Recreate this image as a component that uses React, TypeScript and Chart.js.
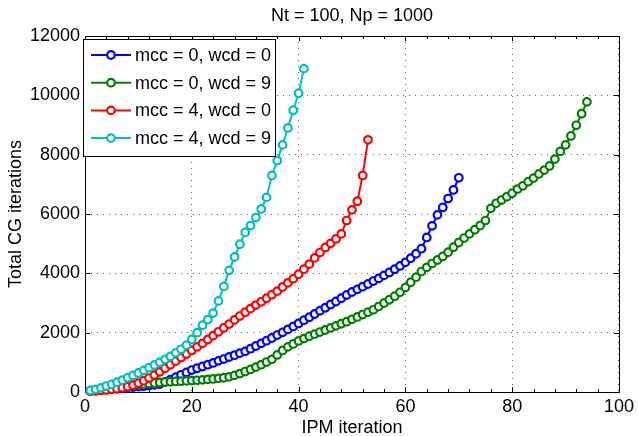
import React, { useEffect, useRef } from "react";
import { Chart, registerables } from "chart.js";

Chart.register(...registerables);

const FONT = '"Liberation Sans", Arial, Helvetica, sans-serif';

const titleText = "Nt = 100, Np = 1000";
const xTitle = "IPM iteration";
const yTitle = "Total CG iterations";

const seriesLabels = ["mcc = 0, wcd = 0", "mcc = 0, wcd = 9", "mcc = 4, wcd = 0", "mcc = 4, wcd = 9"];
const seriesColors = ["#0000ff", "#008000", "#ff0000", "#00bfbf"];

const xTickValues = [0, 20, 40, 60, 80, 100];
const yTickValues = [0, 2000, 4000, 6000, 8000, 10000, 12000];
const xMinorStep = 4;

// Total CG iterations per IPM iteration (iteration index starts at 1)
const mcc0wcd0 = [
  45, 60, 75, 90, 105, 120, 135, 150, 165, 180,
  195, 215, 240, 270, 340, 420, 500, 580, 660, 740,
  800, 860, 920, 980, 1050, 1110, 1180, 1240, 1310, 1370,
  1460, 1550, 1640, 1730, 1820, 1920, 2010, 2110, 2210, 2310,
  2420, 2520, 2630, 2740, 2840, 2950, 3050, 3160, 3270, 3370,
  3460, 3550, 3640, 3740, 3830, 3930, 4030, 4140, 4250, 4370,
  4510, 4660, 4830, 5210, 5600, 5970, 6220, 6520, 6810, 7220,
];

const mcc0wcd9 = [
  20, 40, 60, 80, 110, 140, 170, 200, 225, 250,
  270, 290, 305, 320, 335, 345, 355, 365, 375, 385,
  395, 410, 425, 440, 460, 480, 510, 560, 620, 690,
  760, 840, 920, 1010, 1100, 1250, 1400, 1520, 1620, 1720,
  1800, 1880, 1950, 2020, 2090, 2160, 2230, 2300, 2370, 2450,
  2530, 2610, 2690, 2770, 2880, 3000, 3110, 3230, 3360, 3520,
  3700, 3870, 4060, 4200, 4330, 4450, 4570, 4710, 4880, 5040,
  5190, 5330, 5470, 5610, 5780, 6190, 6360, 6470, 6580, 6700,
  6840, 6950, 7090, 7210, 7350, 7480, 7620, 7850, 8110, 8330,
  8630, 8990, 9380, 9780,
];

const mcc4wcd0 = [
  30, 40, 55, 70, 90, 110, 140, 180, 230, 300,
  380, 470, 570, 680, 800, 920, 1040, 1160, 1280, 1400,
  1520, 1640, 1770, 1900, 2030, 2160, 2290, 2430, 2560, 2690,
  2810, 2930, 3040, 3160, 3280, 3400, 3540, 3680, 3820, 3970,
  4140, 4310, 4520, 4700, 4870, 5010, 5160, 5330, 5780, 6140,
  6430, 7300, 8500,
];

const mcc4wcd9 = [
  50, 90, 140, 200, 260, 330, 400, 480, 560, 640,
  730, 820, 910, 1000, 1100, 1200, 1320, 1440, 1580, 1770,
  2000, 2250, 2440, 2660, 3070, 3560, 4100, 4550, 4980, 5380,
  5610, 5880, 6170, 6560, 7300, 7800, 8330, 8900, 9500, 10070,
  10900,
];

const allSeries = [mcc0wcd0, mcc0wcd9, mcc4wcd0, mcc4wcd9];

const toPoints = (vals: number[]) => vals.map((v, i) => ({ x: i + 1, y: v }));

const MARKER_R = 3.8;
const MARKER_W = 2.2;

const matlabPlugin = {
  id: "matlabDecor",
  beforeDatasetsDraw(chart: any) {
    const { ctx, chartArea: ca, scales } = chart;
    const xs = scales.x;
    const ys = scales.y;
    ctx.save();
    ctx.strokeStyle = "#000";
    ctx.lineWidth = 1;
    ctx.beginPath();
    xTickValues.forEach((v) => {
      const px = Math.round(xs.getPixelForValue(v)) + 0.5;
      ctx.moveTo(px, ca.bottom);
      ctx.lineTo(px, ca.bottom - 5);
      ctx.moveTo(px, ca.top);
      ctx.lineTo(px, ca.top + 5);
    });
    for (let v = xMinorStep; v < 100; v += xMinorStep) {
      if (v % 20 === 0) continue;
      const px = Math.round(xs.getPixelForValue(v)) + 0.5;
      ctx.moveTo(px, ca.bottom);
      ctx.lineTo(px, ca.bottom - 3);
      ctx.moveTo(px, ca.top);
      ctx.lineTo(px, ca.top + 3);
    }
    yTickValues.forEach((v) => {
      const py = Math.round(ys.getPixelForValue(v)) + 0.5;
      ctx.moveTo(ca.left, py);
      ctx.lineTo(ca.left + 5, py);
      ctx.moveTo(ca.right, py);
      ctx.lineTo(ca.right - 5, py);
    });
    ctx.stroke();
    ctx.strokeRect(Math.round(ca.left) + 0.5, Math.round(ca.top) + 0.5, Math.round(ca.right - ca.left), Math.round(ca.bottom - ca.top));
    ctx.restore();
  },
  afterDraw(chart: any) {
    const { ctx, chartArea: ca } = chart;
    ctx.save();
    ctx.fillStyle = "#000";
    ctx.font = `18px ${FONT}`;
    ctx.textAlign = "center";
    ctx.textBaseline = "middle";
    const cx = (ca.left + ca.right) / 2;
    ctx.fillText(titleText, cx, 16);
    ctx.fillText(xTitle, cx, 428);
    ctx.save();
    ctx.translate(16, (ca.top + ca.bottom) / 2);
    ctx.rotate(-Math.PI / 2);
    ctx.fillText(yTitle, 0, 0);
    ctx.restore();

    const lx = Math.round(ca.left) - 2;
    const ly = Math.round(ca.top) + 3;
    const lw = 192;
    const lh = 117;
    ctx.fillStyle = "#fff";
    ctx.fillRect(lx, ly, lw, lh);
    ctx.strokeStyle = "#000";
    ctx.lineWidth = 1;
    ctx.strokeRect(lx + 0.5, ly + 0.5, lw, lh);
    seriesLabels.forEach((label, i) => {
      const cy = ly + 16 + i * 27.7;
      ctx.strokeStyle = seriesColors[i];
      ctx.lineWidth = 2;
      ctx.beginPath();
      ctx.moveTo(lx + 8, cy);
      ctx.lineTo(lx + 48, cy);
      ctx.stroke();
      ctx.beginPath();
      ctx.arc(lx + 28, cy, MARKER_R, 0, Math.PI * 2);
      ctx.fillStyle = "#fff";
      ctx.fill();
      ctx.lineWidth = MARKER_W;
      ctx.stroke();
      ctx.fillStyle = "#000";
      ctx.textAlign = "left";
      ctx.textBaseline = "middle";
      ctx.fillText(label, lx + 52, cy + 1);
    });
    ctx.restore();
  },
};

export default function App() {
  const canvasRef = useRef<HTMLCanvasElement | null>(null);

  useEffect(() => {
    if (!canvasRef.current) return;
    const datasets = allSeries.map((vals, i) => ({
      label: seriesLabels[i],
      data: toPoints(vals),
      borderColor: seriesColors[i],
      backgroundColor: seriesColors[i],
      borderWidth: 2,
      pointRadius: MARKER_R,
      pointBorderWidth: MARKER_W,
      pointBorderColor: seriesColors[i],
      pointBackgroundColor: "#ffffff",
      showLine: true,
      fill: false,
      tension: 0,
      clip: false as any,
      order: allSeries.length - i,
    }));
    const tickFont = { family: FONT, size: 18 };
    const chart = new Chart(canvasRef.current, {
      type: "scatter",
      data: { datasets },
      plugins: [matlabPlugin],
      options: {
        animation: false,
        responsive: false,
        devicePixelRatio: 1,
        layout: { padding: { top: 36, right: 16, left: 0, bottom: 0 } },
        plugins: {
          legend: { display: false },
          title: { display: false },
          tooltip: { enabled: false },
        },
        scales: {
          x: {
            type: "linear",
            min: 0,
            max: 100,
            afterBuildTicks: (s: any) => {
              s.ticks = xTickValues.map((v) => ({ value: v }));
            },
            ticks: { font: tickFont, color: "#000", padding: 4, maxRotation: 0, autoSkip: false },
            grid: { drawTicks: false, color: "rgba(0,0,0,0.6)", lineWidth: 1 },
            border: { display: false, dash: [1, 5] },
            afterFit: (s: any) => {
              s.height = 44;
            },
          },
          y: {
            type: "linear",
            min: 0,
            max: 12000,
            afterBuildTicks: (s: any) => {
              s.ticks = yTickValues.map((v) => ({ value: v }));
            },
            ticks: { font: tickFont, color: "#000", padding: 5, autoSkip: false, callback: (v: any) => String(v) },
            grid: { drawTicks: false, color: "rgba(0,0,0,0.6)", lineWidth: 1 },
            border: { display: false, dash: [1, 5] },
            afterFit: (s: any) => {
              s.width = 85;
            },
          },
        },
      },
    });
    return () => chart.destroy();
  }, []);

  return (
    <div style={{ position: "fixed", left: 0, top: 0, width: 638, height: 436, background: "#fff" }}>
      <canvas ref={canvasRef} width={638} height={436} style={{ display: "block" }} />
    </div>
  );
}
